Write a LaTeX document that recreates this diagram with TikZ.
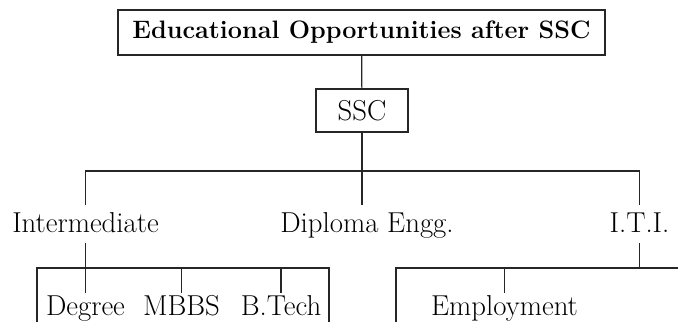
\documentclass[tikz,border=0pt]{standalone}
\usepackage{tikz}

\begin{document}
\begin{tikzpicture}[x=1pt, y=-1pt,
    link/.style={draw=black!85, line width=1.2pt},
    headbox/.style={draw=black!85, line width=1.2pt, minimum width=487pt, minimum height=45pt, inner sep=0pt, font=\fontsize{25.2}{29}\selectfont\bfseries},
    sscbox/.style={draw=black!85, line width=1.2pt, minimum width=92pt, minimum height=43pt, inner sep=0pt, font=\fontsize{28.8}{32}\selectfont},
    branch/.style={inner xsep=0pt, inner ysep=7pt, text height=20pt, text depth=4pt, font=\fontsize{28.8}{32}\selectfont},
    leaf/.style={inner xsep=0pt, inner ysep=2pt, text height=20pt, text depth=4pt, font=\fontsize{28.8}{32}\selectfont}]
          \useasboundingbox (0,0) rectangle (678,322);
          % Heading and SSC
          \node[headbox] (title) at (361.5,32.5) {Educational Opportunities after SSC};
          \node[sscbox] (ssc) at (362,110.5) {SSC};
          \draw[link] (title) -- (ssc);
          % Courses after SSC
          \node[branch] (intermediate) at (85.5,224) {Intermediate};
          \node[branch] (diploma) at (367,224) {Diploma Engg.};
          \node[branch] (iti) at (639.5,224) {I.T.I.};
          \coordinate (topbar) at (362,171);
          \draw[link] (ssc) -- (topbar);
          \draw[link] (intermediate.north) |- (topbar) -| (iti.north);
          \draw[link] (topbar) -- (topbar |- diploma.north);
          % After Intermediate
          \coordinate (lowbar) at (0,268);
          \coordinate (leftend) at (37,322);
          \coordinate (rightend) at (329,322);
          \node[leaf] (degree) at (85.5,307) {Degree};
          \node[leaf] (mbbs) at (181.5,307) {MBBS};
          \node[leaf] (btech) at (281,307) {B.Tech};
          \draw[link] (leftend) |- (lowbar -| rightend) -- (rightend);
          \draw[link] (intermediate.south) -- (degree.north);
          \draw[link] (mbbs.north) -- (mbbs.north |- lowbar);
          \draw[link] (btech.north) -- (btech.north |- lowbar);
          % After I.T.I.
          \coordinate (itileft) at (396,322);
          \coordinate (itiright) at (678,268);
          \node[leaf] (employment) at (504.5,307) {Employment};
          \draw[link] (itileft) |- (itiright);
          \draw[link] (iti.south) -- (iti.south |- lowbar);
          \draw[link] (employment.north) -- (employment.north |- lowbar);
        \end{tikzpicture}
\end{document}
